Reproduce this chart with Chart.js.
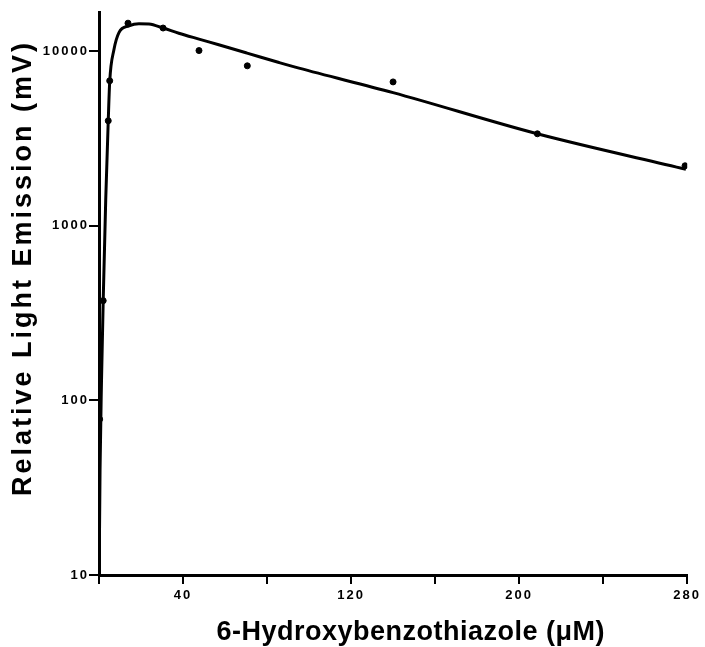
<!DOCTYPE html>
<html>
<head>
<meta charset="utf-8">
<script src="https://cdn.jsdelivr.net/npm/chart.js@4"></script>
<style>
  html, body { margin: 0; padding: 0; background: #fff; }
  #wrap { width: 705px; height: 647px; }
</style>
</head>
<body>
<div id="wrap"><canvas id="lightChart" width="705" height="647"></canvas></div>
<script>
// measured points: concentration (uM) and light emission (mV)
const concValues = [0.3, 2, 4.4, 5.1, 13.8, 30.5, 47.6, 70.6, 140, 208.7, 279];
const emissionValues = [78, 373, 4000, 6780, 14500, 13600, 10100, 8260, 6680, 3370, 2210];

// fitted curve
const curveX = [0.1, 0.5, 1.2, 2, 3.2, 4.4, 5.1, 7.1, 9.5, 14.3, 19, 23.8, 30.5, 38, 47.6, 57, 70.5, 85.7, 95.2, 140, 208.6, 279.4];
const curveY = [11, 40, 131, 373, 1410, 4000, 6710, 10200, 12800, 14000, 14400, 14350, 13600, 12700, 11750, 10900, 9770, 8630, 8010, 5800, 3370, 2110];

const xTicks = [0, 40, 80, 120, 160, 200, 240, 280];
const xTickLabels = ["", "40", "", "120", "", "200", "", "280"];
const yTicks = [10, 100, 1000, 10000];

const xTitle = '6-Hydroxybenzothiazole (\u03bcM)';
const yTitle = 'Relative Light Emission (mV)';

const FAMILY = "'Liberation Sans', Arial, sans-serif";
const tickFont = { family: FAMILY, size: 13, weight: 'bold' };

// wide, spaced lettering like the printed figure
const spacing = {
  id: 'spacing',
  beforeLayout(chart) { chart.ctx.letterSpacing = '2px'; },
  beforeDraw(chart) { chart.ctx.letterSpacing = '2px'; },
  afterDraw(chart) {
    const ctx = chart.ctx;
    const area = chart.chartArea;
    ctx.save();
    ctx.fillStyle = '#000';
    ctx.textAlign = 'center';
    ctx.textBaseline = 'middle';
    ctx.font = 'bold 27px ' + FAMILY;
    ctx.letterSpacing = '0.5px';
    ctx.fillText(xTitle, area.left + (area.right - area.left) * 0.53, 633);
    ctx.translate(24, area.top + 256);
    ctx.rotate(-Math.PI / 2);
    ctx.letterSpacing = '3px';
    ctx.fillText(yTitle, 0, 0);
    ctx.restore();
  }
};

new Chart(document.getElementById('lightChart'), {
  type: 'scatter',
  data: {
    datasets: [{
      data: concValues.map((x, i) => ({ x: x, y: emissionValues[i] })),
      backgroundColor: '#000',
      borderColor: '#000',
      pointRadius: 3,
      showLine: false
    }, {
      data: curveX.map((x, i) => ({ x: x, y: curveY[i] })),
      borderColor: '#000',
      borderWidth: 3,
      pointRadius: 0,
      showLine: true,
      cubicInterpolationMode: 'monotone'
    }]
  },
  plugins: [spacing],
  options: {
    responsive: false,
    animation: false,
    layout: { padding: { top: 12, right: 14, left: 0, bottom: 0 } },
    plugins: {
      legend: { display: false },
      tooltip: { enabled: false }
    },
    scales: {
      x: {
        type: 'linear',
        min: 0,
        max: 280,
        afterBuildTicks: (axis) => { axis.ticks = xTicks.map(v => ({ value: v })); },
        afterFit: (axis) => { axis.height = 72; },
        ticks: {
          color: '#000',
          font: tickFont,
          padding: 4,
          maxRotation: 0,
          callback: (v) => xTickLabels[xTicks.indexOf(v)]
        },
        grid: { drawOnChartArea: false, drawTicks: true, tickLength: 9, color: '#000', lineWidth: 2 },
        border: { color: '#000', width: 3 }
      },
      y: {
        type: 'logarithmic',
        min: 10,
        max: 16800,
        afterBuildTicks: (axis) => { axis.ticks = yTicks.map(v => ({ value: v })); },
        afterFit: (axis) => { axis.width = 99; },
        ticks: {
          color: '#000',
          font: tickFont,
          padding: 0,
          callback: (v) => String(v)
        },
        grid: { drawOnChartArea: false, drawTicks: true, tickLength: 10, color: '#000', lineWidth: 2 },
        border: { color: '#000', width: 3 }
      }
    }
  }
});
</script>
</body>
</html>
